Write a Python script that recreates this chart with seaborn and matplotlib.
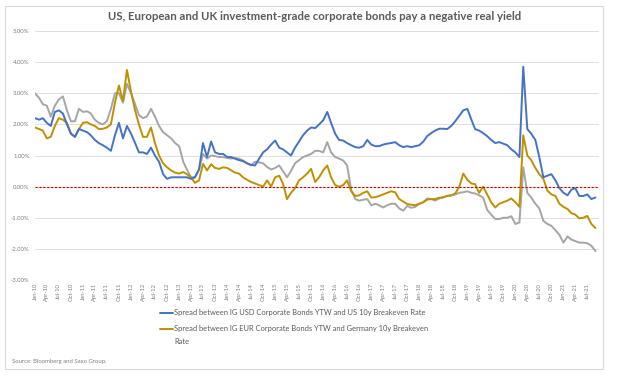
import matplotlib
matplotlib.use("Agg")
import matplotlib.pyplot as plt
import matplotlib.dates as mdates
from matplotlib.lines import Line2D
from matplotlib.patches import Rectangle
from matplotlib.ticker import MultipleLocator, FuncFormatter
import numpy as np
import pandas as pd
import seaborn as sns

# ---------------- data (monthly, Jan-2010 .. Sep-2021) ----------------
start_month = "2010-01-01"

usd_spread = [
    # 2010
    2.20, 2.15, 2.20, 2.05, 1.95, 2.40, 2.45, 2.35, 2.00, 1.70, 1.60, 1.85,
    # 2011
    1.80, 1.75, 1.65, 1.50, 1.40, 1.33, 1.25, 1.15, 1.65, 2.05, 1.55, 1.95,
    # 2012
    1.70, 1.40, 1.10, 1.10, 1.05, 1.25, 1.00, 0.80, 0.40, 0.25, 0.30, 0.30,
    # 2013
    0.30, 0.30, 0.30, 0.25, 0.30, 0.55, 1.40, 0.95, 1.45, 1.10, 1.05, 1.05,
    # 2014
    0.95, 0.95, 0.90, 0.85, 0.82, 0.75, 0.70, 0.68, 0.90, 1.10, 1.20, 1.35,
    # 2015
    1.48, 1.25, 1.20, 1.10, 1.00, 1.25, 1.45, 1.65, 1.80, 1.90, 1.88, 2.00,
    # 2016
    2.13, 2.40, 2.05, 1.70, 1.50, 1.48, 1.40, 1.33, 1.27, 1.25, 1.30, 1.50,
    # 2017
    1.35, 1.30, 1.30, 1.35, 1.38, 1.40, 1.43, 1.33, 1.27, 1.30, 1.27, 1.30,
    # 2018
    1.33, 1.45, 1.62, 1.72, 1.80, 1.86, 1.86, 1.85, 1.95, 2.10, 2.28, 2.45,
    # 2019
    2.50, 2.15, 1.85, 1.80, 1.72, 1.62, 1.50, 1.40, 1.43, 1.38, 1.33, 1.20,
    # 2020
    1.10, 0.95, 3.85, 1.85, 1.70, 1.50, 0.95, 0.30, 0.35, 0.40, 0.20, -0.05,
    # 2021
    -0.20, -0.28, -0.10, -0.05, -0.30, -0.30, -0.25, -0.40, -0.35,
]

eur_spread = [
    # 2010
    1.90, 1.85, 1.80, 1.55, 1.60, 1.95, 2.20, 2.15, 2.05, 1.70, 1.60, 1.85,
    # 2011
    2.05, 2.07, 2.00, 1.95, 1.85, 1.86, 1.90, 2.00, 2.70, 3.25, 2.75, 3.75,
    # 2012
    3.05, 2.45, 2.00, 1.60, 1.60, 1.90, 1.40, 1.00, 0.75, 0.62, 0.52, 0.45,
    # 2013
    0.42, 0.47, 0.40, 0.30, 0.12, 0.20, 0.73, 0.52, 0.72, 0.60, 0.57, 0.62,
    # 2014
    0.60, 0.52, 0.45, 0.42, 0.30, 0.22, 0.15, 0.10, 0.05, 0.00, 0.20, 0.00,
    # 2015
    0.30, 0.35, 0.10, -0.40, -0.20, -0.05, 0.20, 0.30, 0.42, 0.57, 0.15, 0.30,
    # 2016
    0.52, 0.68, 0.30, 0.05, 0.00, 0.05, 0.20, -0.15, -0.30, -0.28, -0.20, -0.15,
    # 2017
    -0.35, -0.34, -0.30, -0.25, -0.20, -0.15, -0.18, -0.40, -0.48, -0.56, -0.58, -0.60,
    # 2018
    -0.55, -0.50, -0.42, -0.40, -0.40, -0.36, -0.34, -0.30, -0.28, -0.22, 0.00, 0.42,
    # 2019
    0.22, 0.10, 0.08, -0.20, 0.00, -0.25, -0.50, -0.67, -0.55, -0.50, -0.45, -0.38,
    # 2020
    -0.50, -0.65, 1.65, 1.00, 0.85, 0.60, 0.40, 0.25, -0.13, -0.25, -0.30, -0.55,
    # 2021
    -0.65, -0.72, -0.85, -0.90, -1.02, -1.00, -0.94, -1.20, -1.33,
]

gbp_spread = [
    # 2010
    3.00, 2.85, 2.65, 2.60, 2.25, 2.60, 2.80, 2.90, 2.45, 2.10, 2.10, 2.50,
    # 2011
    2.40, 2.42, 2.35, 2.15, 2.05, 2.00, 2.10, 2.50, 3.00, 3.00, 2.70, 3.30,
    # 2012
    3.00, 2.65, 2.30, 2.20, 2.25, 2.50, 2.25, 1.95, 1.75, 1.65, 1.55, 1.40,
    # 2013
    1.30, 0.80, 0.55, 0.30, 0.30, 0.55, 1.05, 0.90, 1.00, 0.98, 0.95, 0.95,
    # 2014
    0.92, 0.90, 0.92, 0.90, 0.84, 0.75, 0.68, 0.80, 0.78, 0.75, 0.63, 0.55,
    # 2015
    0.60, 0.68, 0.50, 0.30, 0.50, 0.75, 0.85, 0.95, 1.00, 1.05, 1.15, 1.15,
    # 2016
    1.10, 1.43, 1.10, 0.95, 0.90, 0.84, 0.68, -0.10, -0.40, -0.45, -0.42, -0.40,
    # 2017
    -0.60, -0.55, -0.60, -0.67, -0.60, -0.55, -0.55, -0.70, -0.77, -0.62, -0.68, -0.65,
    # 2018
    -0.55, -0.50, -0.38, -0.40, -0.45, -0.38, -0.35, -0.30, -0.28, -0.25, -0.20, -0.18,
    # 2019
    -0.15, -0.20, -0.22, -0.28, -0.35, -0.75, -0.90, -1.04, -1.04, -1.00, -1.00, -0.95,
    # 2020
    -1.20, -1.15, 0.62, -0.20, -0.35, -0.55, -0.70, -1.10, -1.20, -1.26, -1.40, -1.55,
    # 2021
    -1.80, -1.60, -1.70, -1.75, -1.80, -1.80, -1.82, -1.90, -2.07,
]

series_names = [
    "Spread between IG GBP Corporate Bonds YTW and UK 10y Breakeven Rate",
    "Spread between IG EUR Corporate Bonds YTW and Germany 10y Breakeven Rate",
    "Spread between IG USD Corporate Bonds YTW and US 10y Breakeven Rate",
]
series_colors = ["#A5A5A5", "#BF9000", "#4472C4"]

title_text = "US, European and UK investment-grade corporate bonds pay a negative real yield"
legend_usd = "Spread between IG USD Corporate Bonds YTW and US 10y Breakeven Rate"
legend_eur_1 = "Spread between IG EUR Corporate Bonds YTW and Germany 10y Breakeven"
legend_eur_2 = "Rate"
source_text = "Source: Bloomberg and Saxo Group."

# ---------------- build frame ----------------
dates = pd.date_range(start_month, periods=len(usd_spread), freq="MS")
frames = []
for name, vals in zip(series_names, [gbp_spread, eur_spread, usd_spread]):
    frames.append(pd.DataFrame({"date": dates, "value": vals, "series": name}))
df = pd.concat(frames, ignore_index=True)

# ---------------- plot ----------------
sns.set_style("white")
plt.rcParams["font.family"] = ["Lato", "DejaVu Sans"]

W, H = 620, 382
fig = plt.figure(figsize=(W / 100, H / 100), dpi=100)

def fx(px):
    return px / W

def fy(py):
    return 1 - py / H

ax = fig.add_axes([fx(35), fy(280), fx(599) - fx(35), fy(31) - fy(280)])

sns.lineplot(data=df, x="date", y="value", hue="series",
             hue_order=series_names, palette=series_colors,
             linewidth=1.4, legend=False, ax=ax)

ax.axhline(0, color="#C00000", linestyle=(0, (2.0, 1.5)), linewidth=0.8, zorder=5)

ax.set_ylim(-3, 5)
ax.yaxis.set_major_locator(MultipleLocator(1))
ax.yaxis.set_major_formatter(FuncFormatter(lambda v, p: f"{v:.2f}%"))
ax.grid(axis="y", color="#D9D9D9", linewidth=0.6)
ax.grid(axis="x", visible=False)
ax.set_axisbelow(True)

ax.set_xlim(pd.Timestamp("2010-01-01"), pd.Timestamp("2021-09-28"))
ax.xaxis.set_major_locator(mdates.MonthLocator(bymonth=[1, 4, 7, 10]))
ax.xaxis.set_major_formatter(mdates.DateFormatter("%b-%y"))

ax.tick_params(axis="x", labelsize=4.2, labelcolor="#7F7F7F", length=0, pad=2,
               rotation=90)
ax.tick_params(axis="y", labelsize=4.3, labelcolor="#7F7F7F", length=0, pad=4)
for lbl in ax.get_xticklabels():
    lbl.set_verticalalignment("top")

for s in ax.spines.values():
    s.set_visible(False)
ax.set_xlabel("")
ax.set_ylabel("")

# title
fig.text(0.507, fy(17), title_text, ha="center", va="center",
         fontsize=8.2, fontweight="bold", color="#595959")

# legend (manual, below the axes)
fig.add_artist(Line2D([fx(160), fx(173)], [fy(313), fy(313)],
                      transform=fig.transFigure, color=series_colors[2], linewidth=1.4))
fig.text(fx(174), fy(313), legend_usd, ha="left", va="center",
         fontsize=5.4, color="#595959")
fig.add_artist(Line2D([fx(160), fx(173)], [fy(329), fy(329)],
                      transform=fig.transFigure, color=series_colors[1], linewidth=1.4))
fig.text(fx(174), fy(329), legend_eur_1, ha="left", va="center",
         fontsize=5.4, color="#595959")
fig.text(fx(174), fy(341), legend_eur_2, ha="left", va="center",
         fontsize=5.4, color="#595959")

# source
fig.text(fx(12), fy(362), source_text, ha="left", va="center",
         fontsize=4.3, color="#7F7F7F")

# outer chart border
fig.add_artist(Rectangle((fx(5), fy(369)), fx(603) - fx(5), fy(6) - fy(369),
                         transform=fig.transFigure, fill=False,
                         edgecolor="#D9D9D9", linewidth=0.8))

fig.savefig("out.png", dpi=100)
